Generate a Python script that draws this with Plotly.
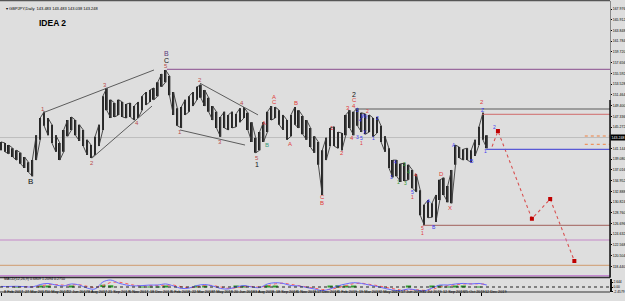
import plotly.graph_objects as go

# ---------------- data ----------------
SAMPLE_STEP = 6  # bars per price sample
price_high = [142.4, 142.2, 141.8, 141.2, 140.8, 140.3, 139.5, 138.5, 138.9, 143.7,
              147.0, 148.2, 147.0, 145.7, 143.7, 142.2, 144.7, 146.6, 147.2, 146.6,
              145.7, 144.7, 142.8, 141.8, 143.4, 145.7, 151.2, 152.8, 150.5, 149.9,
              150.5, 150.1, 149.7, 149.9, 149.3, 150.1, 151.2, 152.0, 152.4, 152.8,
              153.9, 155.5, 156.25, 155.1, 152.0, 148.9, 149.1, 150.5, 151.2, 152.0,
              153.0, 153.4, 152.4, 150.9, 149.3, 148.2, 147.2, 148.2, 147.6, 148.2,
              147.8, 148.9, 149.1, 148.0, 146.2, 143.2, 144.3, 146.2, 148.2, 149.3,
              149.1, 148.5, 147.6, 146.6, 147.6, 149.1, 148.5, 147.4, 146.6, 145.1,
              143.5, 142.4, 140.8, 143.2, 145.1, 145.3, 144.3, 144.1, 147.6, 148.5,
              148.2, 148.9, 148.0, 147.8, 147.6, 147.0, 147.2, 145.5, 143.5, 141.2,
              138.9, 138.9, 138.2, 138.3, 138.0, 137.0, 136.2, 133.1, 130.3, 131.2,
              130.6, 132.2, 135.1, 135.5, 133.9, 137.0, 141.8, 141.4, 141.0, 141.2,
              140.8, 142.8, 145.3, 148.0, 143.7]
price_low = [140.8, 140.5, 140.1, 139.5, 138.9, 138.2, 137.4, 136.6, 135.8, 138.9,
             142.8, 145.5, 143.7, 142.2, 140.5, 138.9, 140.5, 143.5, 144.7, 143.7,
             142.6, 141.6, 139.9, 139.3, 139.9, 141.6, 144.7, 148.5, 147.0, 147.2,
             147.6, 147.2, 147.0, 147.2, 146.6, 147.0, 148.5, 149.5, 150.1, 150.5,
             151.2, 153.0, 153.9, 151.4, 147.6, 145.5, 145.1, 147.6, 148.2, 149.3,
             150.5, 150.9, 149.3, 148.2, 146.6, 145.1, 143.4, 145.1, 144.7, 145.1,
             145.3, 146.2, 147.0, 144.7, 142.4, 140.3, 140.8, 142.4, 144.3, 146.6,
             147.0, 145.7, 144.7, 142.8, 143.5, 145.7, 145.1, 143.9, 142.8, 141.4,
             140.3, 138.0, 132.2, 138.9, 141.6, 141.6, 141.2, 140.8, 143.7, 145.1,
             143.7, 145.5, 144.3, 143.9, 144.3, 143.4, 144.1, 142.4, 140.5, 137.4,
             135.6, 135.8, 134.7, 134.9, 135.1, 133.5, 132.8, 128.3, 126.4, 127.8,
             127.9, 127.0, 131.2, 132.2, 130.8, 130.6, 138.0, 139.3, 138.9, 138.9,
             138.5, 139.7, 141.8, 142.8, 141.2]

MACD_STEP = 12
macd_main = [0.3, 0.3, 0.4, 0.2, 0.0, 1.4, 2.0, 1.1, 0.6, 1.7, 1.1, -0.6, -1.1, 2.8, 3.9,
             2.2, 1.1, 0.6, 0.8, 1.1, 1.1, 1.7, 0.6, -0.8, -0.6, 0.8, 1.4, 0.6, -0.8, -1.1,
             0.0, 0.8, 0.0, -0.3, 1.7, 2.4, 2.0, 0.8, 0.6, -0.3, -1.1, -2.0, -1.1, 0.6, 1.7,
             2.4, 2.0, 1.1, 0.3, -0.8, -1.7, -2.0, -1.1, -1.7, -2.2, -0.6, 1.1, 1.1, 1.7, 2.0,
             1.7, 2.0, 1.1]
macd_signal = [0.3, 0.3, 0.3, 0.3, 0.1, 0.6, 1.3, 1.4, 1.0, 1.2, 1.3, 0.4, -0.4, 0.8, 2.6,
               2.8, 1.8, 1.0, 0.7, 0.9, 1.0, 1.3, 1.1, 0.2, -0.5, 0.0, 0.9, 0.9, 0.0, -0.8,
               -0.5, 0.3, 0.3, -0.1, 0.6, 1.8, 2.2, 1.5, 0.8, 0.2, -0.6, -1.4, -1.5, -0.4, 0.9,
               1.9, 2.2, 1.6, 0.8, -0.1, -1.1, -1.7, -1.6, -1.5, -1.9, -1.5, 0.1, 0.9, 1.3, 1.7,
               1.8, 1.8, 1.5]
macd_hist = [0, 0, 0.1, 0, 0, 0.8, 0.7, 0, 0, 0.5, 0, 0, 0, 1.2, 1.0,
             0, 0, 0, 0.1, 0.2, 0.1, 0.4, 0, 0, 0, 0.8, 0.5, 0, 0, 0,
             0.5, 0.5, 0, 0, 1.0, 0.6, 0, 0, 0, 0, 0, 0, 0.4, 1.0, 0.8,
             0.5, 0, 0, 0, 0, 0, 0, 0.4, 0, 0, 0.9, 1.0, 0.2, 0.4, 0.3,
             0, 0.2, 0]

date_tick_bars = [32 * k for k in range(24)]
date_labels = ["8 Feb 2017", "27 Mar 2017", "10 May 2017", "22 Jun 2017", "8 Aug 2017",
               "21 Sep 2017", "6 Nov 2017", "18 Dec 2017", "6 Feb 2018", "22 Mar 2018",
               "7 May 2018", "20 Jun 2018", "3 Aug 2018", "18 Sep 2018", "1 Nov 2018",
               "17 Dec 2018", "1 Feb 2019", "19 Mar 2019", "2 May 2019", "17 Jun 2019",
               "31 Jul 2019", "12 Sep 2019", "25 Oct 2019", "12 Dec 2019"]

price_ticks = [167.976, 165.912, 163.848, 161.784, 159.720, 157.656, 155.592, 153.528,
               151.464, 149.400, 147.336, 145.272, 141.144, 139.080, 137.016, 134.952,
               132.888, 130.824, 128.760, 126.696, 124.632, 122.568, 120.504, 118.440]
macd_ticks = [2.644, 0.0, -2.4579]
macd_tick_text = ["2.644", "0.00", "-2.4579"]

last_price = 143.248

forecast_bar = [752, 761, 813, 841, 878]
forecast_price = [141.5, 144.5, 127.6, 131.4, 119.5]

# horizontal levels: (price, start bar or None for full width, colour, width, dash)
levels = [
    (156.38, 254, "#9a6a9e", 1.2, "solid"),
    (148.74, 542, "#5a5a5a", 1.2, "solid"),
    (147.72, 737, "#d06a6a", 1.0, "solid"),
    (140.98, 743, "#5a5ad6", 1.2, "solid"),
    (126.35, 646, "#a0605a", 1.0, "solid"),
    (123.52, None, "#c488c8", 1.2, "solid"),
    (118.65, None, "#d2a884", 1.2, "solid"),
    (116.65, None, "#c488d0", 1.5, "solid"),
    (143.54, 894, "#f08040", 1.0, "dot"),
    (141.94, 894, "#f08040", 1.0, "dot"),
]

# trend / wedge lines (bar, price) pairs
wedges = [
    ((64.8, 148.03), (234.3, 156.25)),
    ((139.4, 139.3), (231.2, 149.3)),
    ((274.1, 144.7), (373.7, 141.8)),
    ((304.8, 153.7), (393.6, 147.6)),
]

DR = "#b84c4c"   # dark red wave numbers
RD = "#e03a3a"   # red
BL = "#3a3af0"   # blue
GR = "#2f9a2f"   # green
BK = "#111111"
PU = "#5a3a7a"
TE = "#3a9a7a"
wave_labels = [
    (45.5, 134.7, "B", BK, 8),
    (63.9, 148.7, "1", DR, 6), (139.4, 138.3, "2", DR, 6), (159.3, 153.4, "3", DR, 6),
    (208.3, 146.0, "4", DR, 6), (252.7, 157.0, "5", DR, 6), (252.7, 158.1, "C", BK, 7),
    (252.7, 159.5, "B", PU, 7),
    (274.1, 144.3, "1", DR, 6), (304.8, 154.3, "2", DR, 6), (335.4, 142.4, "3", DR, 6),
    (369.1, 149.9, "4", DR, 6), (392.0, 139.4, "5", DR, 6), (392.0, 138.1, "1", BK, 7),
    (402.8, 146.0, "A", RD, 6), (407.4, 141.8, "B", TE, 6), (418.1, 151.1, "A", RD, 6),
    (418.1, 150.1, "C", RD, 6), (442.6, 142.0, "A", RD, 6), (451.8, 149.9, "B", RD, 6),
    (491.6, 131.8, "C", RD, 6), (491.6, 130.6, "B", RD, 6),
    (506.9, 145.1, "1", RD, 6), (522.2, 140.3, "2", RD, 6), (531.4, 148.9, "3", RD, 6),
    (537.5, 143.2, "4", RD, 6), (540.6, 151.6, "2", BK, 7), (540.6, 150.5, "C", RD, 6),
    (540.6, 149.4, "4", RD, 6), (545.2, 148.5, "3", BL, 5), (549.8, 146.6, "4", BL, 5),
    (554.4, 147.4, "W", BL, 5), (560.5, 148.3, "2", RD, 5), (560.5, 147.2, "Y", BL, 5),
    (545.2, 143.4, "3", BL, 5), (551.3, 143.2, "5", BL, 5), (551.3, 142.2, "1", RD, 5),
    (557.4, 144.3, "X", BL, 5), (575.8, 147.0, "2", BL, 5), (569.7, 143.2, "1", BL, 5),
    (597.3, 135.6, "3", BL, 5), (603.4, 138.5, "4", BL, 5), (608.0, 134.7, "1", GR, 5),
    (617.2, 138.1, "2", GR, 5), (618.7, 134.5, "3", GR, 5), (623.3, 136.6, "4", GR, 5),
    (635.5, 136.0, "4", RD, 5), (630.9, 132.8, "5", BL, 5), (630.9, 131.8, "1", RD, 5),
    (646.2, 125.8, "5", RD, 5), (646.2, 124.9, "1", RD, 5), (655.4, 131.0, "A", BL, 5),
    (663.1, 126.0, "B", BL, 5), (675.3, 136.2, "D", RD, 6), (687.6, 129.7, "X", RD, 6),
    (693.7, 141.8, "A", BL, 5), (721.3, 138.7, "B", BL, 5), (742.7, 140.6, "1", BL, 5),
    (736.6, 150.1, "2", RD, 6), (736.6, 148.6, "Z", BL, 5), (755.0, 145.2, "2", BL, 5),
]

# ---------------- layout constants ----------------
W, H = 625, 301
X_RANGE = [-1.53, 932.6]
MAIN_RANGE = [116.30, 169.53]
MACD_RANGE = [-2.8, 4.76]
main_dom = [1 - 277.5 / H, 1 - 1 / H]
macd_dom = [1 - 292 / H, 1 - 278.5 / H]
BG = "#dedede"
FONT = "Liberation Sans"

fig = go.Figure()

sample_x = [i * SAMPLE_STEP for i in range(len(price_high))]
# high-low range strokes (bar-chart look)
fig.add_trace(go.Bar(
    x=sample_x, y=[h - l for h, l in zip(price_high, price_low)], base=price_low,
    width=2.6, marker=dict(color="#202020", line=dict(width=0)),
    xaxis="x", yaxis="y", hoverinfo="skip", showlegend=False))
# thin connecting stroke between successive ranges
zx, zy = [], []
for i, (h, l) in enumerate(zip(price_high, price_low)):
    b = i * SAMPLE_STEP
    zx += [b, b]
    zy += ([l, h] if i % 2 == 0 else [h, l])
fig.add_trace(go.Scatter(
    x=zx, y=zy, mode="lines", line=dict(color="#3a3a3a", width=0.9),
    xaxis="x", yaxis="y", hoverinfo="skip", showlegend=False))

# forecast path
fig.add_trace(go.Scatter(
    x=forecast_bar, y=forecast_price, mode="lines",
    line=dict(color="#d85050", width=1.1, dash="dot"),
    xaxis="x", yaxis="y", showlegend=False, hoverinfo="skip"))
fig.add_trace(go.Scatter(
    x=forecast_bar[1:], y=forecast_price[1:], mode="markers",
    marker=dict(color="#c00000", size=4, symbol="square"),
    xaxis="x", yaxis="y", showlegend=False, hoverinfo="skip"))

# MACD
fig.add_trace(go.Bar(
    x=[j * MACD_STEP for j in range(len(macd_hist))], y=macd_hist, width=8,
    marker=dict(color="#30a030", line=dict(width=0)),
    xaxis="x2", yaxis="y2", showlegend=False, hoverinfo="skip"))
fig.add_trace(go.Scatter(
    x=[j * MACD_STEP for j in range(len(macd_signal))], y=macd_signal, mode="lines",
    line=dict(color="#ff5a5a", width=1, dash="dot"),
    xaxis="x2", yaxis="y2", showlegend=False, hoverinfo="skip"))
fig.add_trace(go.Scatter(
    x=[j * MACD_STEP for j in range(len(macd_main))], y=macd_main, mode="lines",
    line=dict(color="#6a6aff", width=1, shape="spline"),
    xaxis="x2", yaxis="y2", showlegend=False, hoverinfo="skip"))

shapes = []
shapes.append(dict(type="line", xref="x", yref="y", x0=X_RANGE[0], x1=X_RANGE[1],
                   y0=last_price, y1=last_price, line=dict(color="#bdbdbd", width=1),
                   layer="below"))
for p, start, col, wd, dash in levels:
    shapes.append(dict(type="line", xref="x", yref="y",
                       x0=X_RANGE[0] if start is None else start, x1=X_RANGE[1],
                       y0=p, y1=p, line=dict(color=col, width=wd, dash=dash)))
for (b0, p0), (b1, p1) in wedges:
    shapes.append(dict(type="line", xref="x", yref="y", x0=b0, y0=p0, x1=b1, y1=p1,
                       line=dict(color="#5c5c5c", width=1)))
shapes.append(dict(type="line", xref="x2", yref="y2", x0=X_RANGE[0], x1=X_RANGE[1],
                   y0=0, y1=0, line=dict(color="#222", width=1, dash="dot")))
shapes.append(dict(type="line", xref="paper", yref="paper", x0=0, x1=1,
                   y0=1 - 0.5 / H, y1=1 - 0.5 / H, line=dict(color="#555", width=1.5)))
shapes.append(dict(type="line", xref="paper", yref="paper", x0=0, x1=1,
                   y0=main_dom[0], y1=main_dom[0], line=dict(color="#333", width=1.5)))
shapes.append(dict(type="line", xref="paper", yref="paper", x0=0, x1=1,
                   y0=macd_dom[0], y1=macd_dom[0], line=dict(color="#333", width=1.2)))
shapes.append(dict(type="line", xref="paper", yref="y", x0=1, x1=1,
                   y0=MAIN_RANGE[0], y1=150.47, line=dict(color="#111", width=1.5)))

ann = []
for b, p, t, c, s in wave_labels:
    ann.append(dict(x=b, y=p, xref="x", yref="y", text=t, showarrow=False,
                    font=dict(color=c, size=s, family=FONT)))
ann.append(dict(x=79, y=165.2, xref="x", yref="y", text="<b>IDEA 2</b>", showarrow=False,
                font=dict(color="#000", size=8.5, family=FONT)))
ann.append(dict(x=0.006, y=1 - 3.5 / H, xref="paper", yref="paper", xanchor="left",
                text="\u25be GBPJPY,Daily  143.483 143.483 143.038 143.248", showarrow=False,
                font=dict(color="#000", size=4, family=FONT)))
ann.append(dict(x=0.003, y=1 - 282.5 / H, xref="paper", yref="paper", xanchor="left",
                text="MACD(12,26,9) 0.6809 1.2094 0.2750", showarrow=False,
                font=dict(color="#000", size=3.6, family=FONT)))
for b, t in zip(date_tick_bars, date_labels):
    ann.append(dict(x=b + 1.5, y=1 - 296 / H, xref="x2", yref="paper", xanchor="left",
                    text=t, showarrow=False, font=dict(color="#000", size=3.8, family=FONT)))
ann.append(dict(x=1.0, y=last_price, xref="paper", yref="y", xanchor="left",
                text="143.248", showarrow=False, bgcolor="#000", borderpad=0.5,
                font=dict(color="#fff", size=3.6, family=FONT)))

fig.update_layout(
    width=W, height=H, margin=dict(l=0, r=15, t=0, b=0),
    paper_bgcolor=BG, plot_bgcolor=BG, barmode="overlay", showlegend=False,
    shapes=shapes, annotations=ann,
    xaxis=dict(domain=[0, 1], range=X_RANGE, anchor="y", showgrid=False, zeroline=False,
               showticklabels=False, ticks="", showline=False),
    xaxis2=dict(domain=[0, 1], range=X_RANGE, anchor="y2", showgrid=False, zeroline=False,
                showticklabels=False, tickvals=date_tick_bars, ticks="outside", ticklen=3,
                tickcolor="#000", tickwidth=1, showline=False),
    yaxis=dict(domain=main_dom, range=MAIN_RANGE, side="right", anchor="x",
               tickvals=price_ticks, ticktext=[f"{v:.3f}" for v in price_ticks],
               ticks="outside", ticklen=1, tickcolor="#000", ticklabelstandoff=0,
               tickfont=dict(size=3.5, color="#000", family=FONT),
               showgrid=False, zeroline=False, showline=True, linecolor="#8a8a8a",
               linewidth=1, automargin=False),
    yaxis2=dict(domain=macd_dom, range=MACD_RANGE, side="right", anchor="x2",
                tickvals=macd_ticks, ticktext=macd_tick_text, ticks="outside", ticklen=1,
                ticklabelstandoff=0,
                tickcolor="#000", tickfont=dict(size=3.3, color="#000", family=FONT),
                showgrid=False, zeroline=False, showline=True, linecolor="#111",
                linewidth=1.5, automargin=False),
)

fig.write_html("out.html")
